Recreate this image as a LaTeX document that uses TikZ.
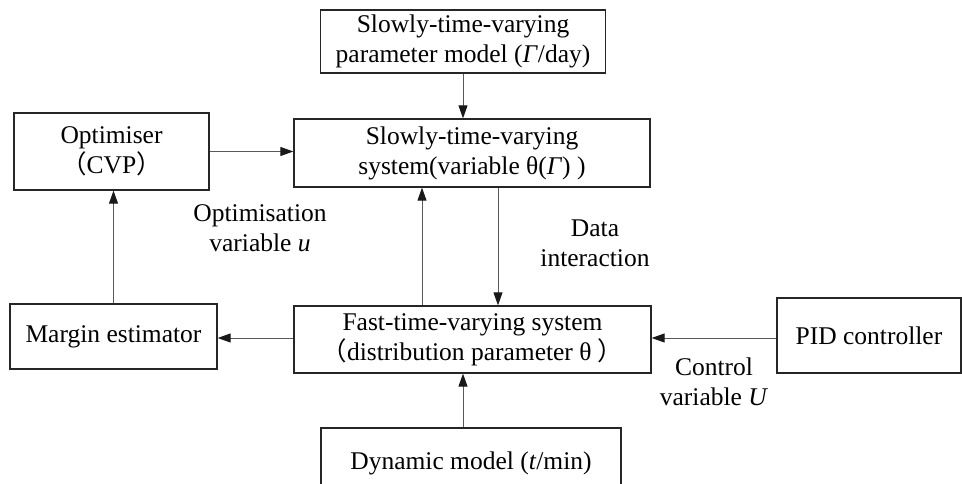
\documentclass[tikz,border=0pt]{standalone}
\usepackage{fontspec}
\setmainfont{Liberation Serif}
\newfontfamily\cjk{Noto Sans CJK SC}
\usepackage{tikz}
\usetikzlibrary{calc,arrows.meta}

\begin{document}
\begin{tikzpicture}[x=1pt,y=-1pt,
    font=\fontsize{25.5}{30}\selectfont,
    blk/.style={draw=black!85,line width=1.3pt,align=center,inner sep=0pt},
    lbl/.style={align=center,inner sep=0pt},
    arr/.style={draw=black!65,line width=1pt,-{Triangle[length=13pt,width=9pt,fill=black!90,color=black!90]}}]
          \useasboundingbox (0,0) rectangle (962,484);
          \node[blk,minimum width=285,minimum height=63] (model) at (463,41.5) {Slowly-time-varying\\parameter model (\textit{Γ}/day)};
          \node[blk,minimum width=356,minimum height=68] (slow) at (472,153) {Slowly-time-varying\\system(variable θ(\textit{Γ}) )};
          \node[blk,minimum width=195,minimum height=77] (opt) at (111.5,151.5) {Optimiser\\{\cjk （}CVP{\cjk ）}};
          \node[blk,minimum width=207,minimum height=65] (margin) at (113.5,336.5) {Margin estimator};
          \node[blk,minimum width=357,minimum height=67] (fast) at (472.5,339.5) {Fast-time-varying system\\{\cjk （}distribution parameter θ {\cjk ）}};
          \node[blk,minimum width=184,minimum height=75] (pid) at (869,335.5) {PID controller};
          \node[blk,minimum width=300,minimum height=70] (dyn) at (471,463) {Dynamic model (\textit{t}/min)};
          \node[lbl] (optvar) at (260,228) {Optimisation\\variable \textit{u}};
          \node[lbl] (data) at (595,243) {Data\\interaction};
          \node[lbl] (ctrl) at (714,382) {Control\\variable \textit{U}};
          \draw[arr] (model.south) -- (model.south |- slow.north);
          \draw[arr] (opt.east) -- (opt.east -| slow.west);
          \draw[arr] (margin.north) -- (margin.north |- opt.south);
          \draw[arr] ([yshift=1.5pt]fast.west) -- ([yshift=1.5pt]fast.west -| margin.east);
          \draw[arr] ([xshift=-50.5pt]fast.north) -- ([xshift=-50.5pt]fast.north |- slow.south);
          \draw[arr] ([xshift=26pt]slow.south) -- ([xshift=26pt]slow.south |- fast.north);
          \draw[arr] ([yshift=-2.5pt]pid.west) -- ([yshift=-2.5pt]pid.west -| fast.east);
          \draw[arr] ([xshift=-8pt]dyn.north) -- ([xshift=-8pt]dyn.north |- fast.south);
        \end{tikzpicture}
\end{document}
